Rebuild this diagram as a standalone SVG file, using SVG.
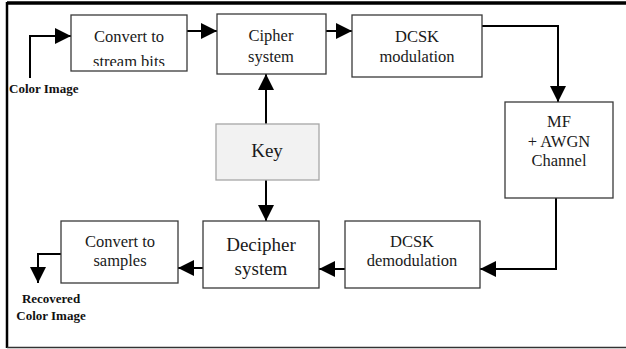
<svg xmlns="http://www.w3.org/2000/svg" width="626" height="349" viewBox="0 0 626 349">
  <style>
    .box { fill: #ffffff; stroke: #3a3a3a; stroke-width: 1.3; }
    .key { fill: #f2f2f2; stroke: #a6a6a6; stroke-width: 1.3; }
    .t { font-size: 16.5px; fill: #1a1a1a; text-anchor: middle; }
    .big { font-size: 19px; }
    .lbl { font-size: 13px; font-weight: bold; fill: #111; }
    .wire { fill: none; stroke: #000; stroke-width: 2; }
  </style>
  <defs>
    <marker id="ah" viewBox="0 0 16 16" refX="16" refY="8" markerWidth="16" markerHeight="16" markerUnits="userSpaceOnUse" orient="auto">
      <path d="M0,0 L16,8 L0,16 Z" fill="#000"/>
    </marker>
    <clipPath id="clipStream">
      <rect x="71" y="15" width="116" height="51"/>
    </clipPath>
  </defs>

  <!-- frame -->
  <g id="frame">
    <line x1="7" y1="3" x2="626" y2="3" stroke="#000" stroke-width="3.5"/>
    <line x1="7" y1="2" x2="7" y2="348" stroke="#000" stroke-width="2.5"/>
    <line x1="7" y1="347.5" x2="626" y2="347.5" stroke="#333" stroke-width="1.5"/>
  </g>

  <!-- connectors -->
  <g id="connectors">
    <polyline class="wire" points="30,78 30,36 71,36" marker-end="url(#ah)"/>
    <line class="wire" x1="187" y1="31" x2="217" y2="31" marker-end="url(#ah)"/>
    <line class="wire" x1="326" y1="31" x2="352" y2="31" marker-end="url(#ah)"/>
    <polyline class="wire" points="482,26 558,26 558,102" marker-end="url(#ah)"/>
    <polyline class="wire" points="556,198 556,269 480,269" marker-end="url(#ah)"/>
    <line class="wire" x1="345" y1="269" x2="319" y2="269" marker-end="url(#ah)"/>
    <line class="wire" x1="203" y1="268" x2="178" y2="268" marker-end="url(#ah)"/>
    <polyline class="wire" points="61,254 38,254 38,283" marker-end="url(#ah)"/>
    <line class="wire" x1="266" y1="124" x2="266" y2="74" marker-end="url(#ah)"/>
    <line class="wire" x1="266" y1="180" x2="266" y2="221" marker-end="url(#ah)"/>
  </g>

  <g id="nodes" font-family="Liberation Serif, Times New Roman, serif">
    <g id="input-label">
      <text class="lbl" x="9" y="93">Color Image</text>
    </g>

    <g id="convert-stream">
      <rect class="box" x="71" y="15" width="116" height="56"/>
      <g clip-path="url(#clipStream)">
        <text class="t" x="129" y="42">Convert to</text>
        <text class="t" x="129" y="67">stream bits</text>
      </g>
    </g>

    <g id="cipher">
      <rect class="box" x="217" y="14" width="109" height="60"/>
      <text class="t" x="271" y="41">Cipher</text>
      <text class="t" x="271" y="62">system</text>
    </g>

    <g id="dcsk-mod">
      <rect class="box" x="352" y="15" width="130" height="62"/>
      <text class="t" x="417" y="42">DCSK</text>
      <text class="t" x="417" y="62">modulation</text>
    </g>

    <g id="channel">
      <rect class="box" x="505" y="102" width="108" height="96"/>
      <text class="t" x="559" y="127">MF</text>
      <text class="t" x="559" y="147">+ AWGN</text>
      <text class="t" x="559" y="166">Channel</text>
    </g>

    <g id="key">
      <rect class="key" x="216" y="124" width="103" height="56"/>
      <text class="t big" x="267" y="157">Key</text>
    </g>

    <g id="dcsk-demod">
      <rect class="box" x="345" y="221" width="135" height="67"/>
      <text class="t" x="412" y="247">DCSK</text>
      <text class="t" x="412" y="266">demodulation</text>
    </g>

    <g id="decipher">
      <rect class="box" x="203" y="221" width="116" height="67"/>
      <text class="t big" x="261" y="251">Decipher</text>
      <text class="t big" x="261" y="275">system</text>
    </g>

    <g id="convert-samples">
      <rect class="box" x="61" y="221" width="117" height="62"/>
      <text class="t" x="120" y="247">Convert to</text>
      <text class="t" x="120" y="266">samples</text>
    </g>

    <g id="output-label">
      <text class="lbl" x="51" y="303" text-anchor="middle">Recovered</text>
      <text class="lbl" x="51" y="320" text-anchor="middle">Color Image</text>
    </g>
  </g>
</svg>
